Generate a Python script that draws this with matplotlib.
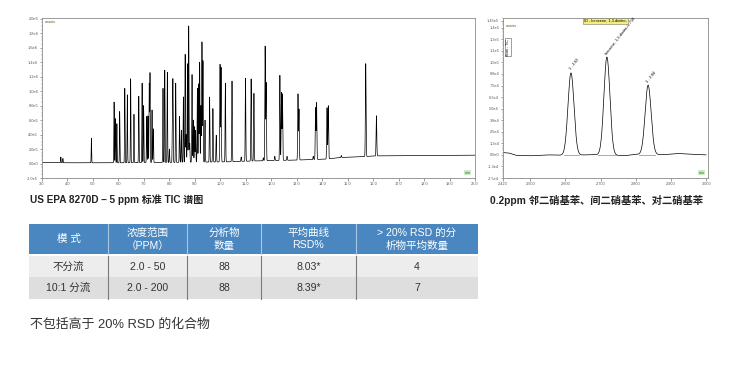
import numpy as np
import matplotlib
matplotlib.use('Agg')
import matplotlib.pyplot as plt
from matplotlib.patches import Rectangle
from matplotlib.ticker import MultipleLocator, FixedLocator

plt.rcParams['font.family'] = ['Liberation Sans', 'Noto Sans CJK SC', 'DejaVu Sans']

W, H = 729, 366

# --- left chromatogram (TIC), peak apex times (min) and apex heights (counts, 1e6)
tic_rt = [3.74, 3.82, 4.94, 5.83, 5.88, 5.94, 6.05, 6.25, 6.35, 6.48, 6.61, 6.80,
          6.93, 6.99, 7.11, 7.16, 7.21, 7.24, 7.32, 7.37, 7.75, 7.82, 7.92, 8.00,
          8.12, 8.14, 8.25, 8.40, 8.47, 8.55, 8.62, 8.66, 8.71, 8.76, 8.80, 8.89,
          8.94, 8.99, 9.03, 9.10, 9.15, 9.19, 9.24, 9.28, 9.32, 9.40, 9.58, 9.71,
          9.84, 9.99, 10.03, 10.20, 10.46, 10.82, 10.99, 11.21, 11.32, 11.69, 11.76,
          11.80, 12.14, 12.34, 12.40, 12.44, 12.62, 13.05, 13.09, 13.65, 13.74,
          13.78, 14.19, 14.24, 14.75, 15.71, 16.13]
tic_height = [0.09, 0.07, 0.35, 0.85, 0.62, 0.55, 0.72, 1.04, 0.95, 1.17, 0.68, 0.93,
              1.11, 0.80, 0.65, 0.66, 1.10, 1.25, 0.74, 0.48, 1.04, 1.29, 1.26, 0.20,
              0.59, 1.08, 1.11, 0.65, 0.46, 0.92, 1.51, 0.40, 1.38, 1.90, 0.28, 1.23,
              0.60, 0.51, 0.46, 1.04, 1.10, 1.40, 0.80, 1.68, 1.42, 0.60, 0.92, 0.76,
              0.39, 1.37, 1.33, 1.11, 1.14, 0.09, 1.18, 1.17, 0.97, 0.08, 1.62,
              1.12, 0.10, 1.22, 0.98, 0.96, 0.10, 0.96, 0.75, 0.10, 0.77,
              0.84, 0.77, 0.80, 0.11, 1.38, 0.66]
tic_base_t = [3.0, 4.2, 6.0, 8.0, 10.2, 11.5, 12.8, 14.1, 14.75, 15.4, 16.2, 20.0]
tic_base_y = [0.014, 0.010, 0.010, 0.015, 0.023, 0.037, 0.046, 0.060, 0.083, 0.092, 0.106, 0.115]
tic_yticks = [-0.2, 0.0, 0.2, 0.4, 0.6, 0.8, 1.0, 1.2, 1.4, 1.6, 1.8, 2.0]
tic_ylabels = ['-2.0e5', '0.0e0', '2.0e5', '4.0e5', '6.0e5', '8.0e5', '1.0e6',
               '1.2e6', '1.4e6', '1.6e6', '1.8e6', '2.0e6']

# --- right chromatogram (dinitrobenzenes)
dnb_rt = [2.616, 2.718, 2.835]
dnb_height = [8.9e4, 10.6e4, 7.5e4]
dnb_labels = ['1 - 2.62', 'benzene, 1,3-dinitro-/2.718', '3 - 2.84']
dnb_int = [(2.597, 2.638), (2.692, 2.744), (2.810, 2.855)]
dnb_base_t = [2.423, 2.44, 2.46, 2.50, 2.55, 2.60, 2.68, 2.77, 2.80, 2.88, 2.92, 2.95, 3.0]
dnb_base_y = [2500, 2000, -500, -1000, 0, -500, 200, -800, 500, 300, 1500, 800, 0]
dnb_yticks = [-2.5e4, -1.25e4, 0, 1.25e4, 2.5e4, 3.75e4, 5.0e4, 6.25e4, 7.5e4,
              8.75e4, 1.0e5, 1.125e5, 1.25e5, 1.375e5, 1.45e5]
dnb_ylabels = ['-2.5e4', '-1.3e4', '0.0e0', '1.3e4', '2.5e4', '3.8e4', '5.0e4', '6.3e4',
               '7.5e4', '8.8e4', '1.0e5', '1.1e5', '1.3e5', '1.4e5', '1.45e5']
dnb_xticks = [2.423, 2.5, 2.6, 2.7, 2.8, 2.9, 3.0]
dnb_xlabels = ['2.423', '2.500', '2.600', '2.700', '2.800', '2.900', '3.000']

# --- table
col_edges = [29, 108, 187, 261, 356, 478]
header = ['模 式', '浓度范围\n（PPM）', '分析物\n数量', '平均曲线\nRSD%', '> 20% RSD 的分\n析物平均数量']
rows = [['不分流', '2.0 - 50', '88', '8.03*', '4'],
        ['10:1 分流', '2.0 - 200', '88', '8.39*', '7']]


def px_axes(fig, x0, y0, x1, y1):
    return fig.add_axes([x0 / W, 1 - y1 / H, (x1 - x0) / W, (y1 - y0) / H])


def style_chrom(ax):
    for s in ax.spines.values():
        s.set_color('#8a8a8a')
        s.set_linewidth(0.6)
    ax.tick_params(which='major', length=1.8, width=0.4, labelsize=2.8,
                   colors='#555555', pad=1)
    ax.tick_params(which='minor', length=1.0, width=0.3, colors='#777777')


fig = plt.figure(figsize=(W / 100, H / 100), dpi=100)
ov = fig.add_axes([0, 0, 1, 1])
ov.set_xlim(0, W)
ov.set_ylim(H, 0)
ov.axis('off')

# left TIC
ax1 = px_axes(fig, 42, 18, 475, 178)
t = np.arange(3.0, 20.0, 0.0015)
y = np.interp(t, tic_base_t, tic_base_y)
for rt, h in zip(tic_rt, tic_height):
    amp = h - np.interp(rt, tic_base_t, tic_base_y)
    s = 0.008 + 0.0004 * (rt - 3)
    y += amp * np.exp(-0.5 * ((t - rt) / s) ** 2)
ax1.plot(t, y, color='black', lw=0.5)
ax1.set_xlim(3.0, 20.0)
ax1.set_ylim(-0.2, 2.01)
ax1.set_xticks(np.arange(3, 21, 1.0))
ax1.set_xticklabels(['%.1f' % v for v in np.arange(3, 21, 1.0)])
ax1.xaxis.set_minor_locator(MultipleLocator(0.2))
ax1.yaxis.set_major_locator(FixedLocator(tic_yticks))
ax1.set_yticklabels(tic_ylabels)
ax1.yaxis.set_minor_locator(MultipleLocator(0.05))
style_chrom(ax1)
ax1.text(0.006, 0.985, 'counts', transform=ax1.transAxes, fontsize=2.8,
         color='#4a6a2a', va='top', ha='left')
ax1.text(0.99, 0.02, 'min', transform=ax1.transAxes, fontsize=2.6, color='#2f5f2f',
         va='bottom', ha='right',
         bbox=dict(boxstyle='square,pad=0.15', fc='#cfe8c8', ec='none'))

# right chromatogram
ax2 = px_axes(fig, 503, 18, 708, 178)
t2 = np.arange(2.423, 3.0, 0.0005)
y2 = np.interp(t2, dnb_base_t, dnb_base_y)
for rt, h in zip(dnb_rt, dnb_height):
    y2 += h * np.exp(-0.5 * ((t2 - rt) / 0.0085) ** 2)
ax2.plot(t2, y2, color='black', lw=0.5)
for a, b in dnb_int:
    ax2.plot([a, b], [0, 0], color='#e06060', lw=0.5)
for rt, h, lab in zip(dnb_rt, dnb_height, dnb_labels):
    ax2.text(rt + 0.002, h + 2000, lab, rotation=52, fontsize=2.8, ha='left',
             va='bottom', rotation_mode='anchor')
ax2.set_xlim(2.423, 3.005)
ax2.set_ylim(-2.5e4, 1.48e5)
ax2.set_xticks(dnb_xticks)
ax2.set_xticklabels(dnb_xlabels)
ax2.xaxis.set_minor_locator(MultipleLocator(0.02))
ax2.set_yticks(dnb_yticks)
ax2.set_yticklabels(dnb_ylabels)
ax2.yaxis.set_minor_locator(MultipleLocator(2500))
style_chrom(ax2)
ax2.text(0.012, 0.965, 'counts', transform=ax2.transAxes, fontsize=2.8,
         color='#4a6a2a', va='top', ha='left')
ax2.text(0.025, 0.87, 'Scan - TIC', transform=ax2.transAxes, fontsize=2.6,
         rotation=90, va='top', ha='center',
         bbox=dict(boxstyle='square,pad=0.2', fc='white', ec='#555555', lw=0.4))
ax2.text(0.5, 0.995, 'ID - benzene, 1,3-dinitro-', transform=ax2.transAxes,
         fontsize=2.8, va='top', ha='center',
         bbox=dict(boxstyle='square,pad=0.2', fc='#f3ef7a', ec='#777777', lw=0.4))
ax2.text(0.985, 0.02, 'min', transform=ax2.transAxes, fontsize=2.6, color='#2f5f2f',
         va='bottom', ha='right',
         bbox=dict(boxstyle='square,pad=0.15', fc='#cfe8c8', ec='none'))

# captions
ov.text(30, 200, 'US EPA 8270D – 5 ppm 标准 TIC 谱图', fontsize=7.2, weight='bold',
        color='#222222', va='center', ha='left')
ov.text(490, 200, '0.2ppm 邻二硝基苯、间二硝基苯、对二硝基苯', fontsize=7.4, weight='bold',
        color='#222222', va='center', ha='left')

# table
hdr_top, hdr_bot = 224, 254
row_y = [(256, 277), (277, 299)]
row_fc = ['#ededed', '#dedede']
ov.add_patch(Rectangle((col_edges[0], hdr_top), col_edges[-1] - col_edges[0],
                       hdr_bot - hdr_top, fc='#4a86bf', ec='none'))
for i, (y0, y1) in enumerate(row_y):
    ov.add_patch(Rectangle((col_edges[0], y0), col_edges[-1] - col_edges[0], y1 - y0,
                           fc=row_fc[i], ec='none'))
for x in col_edges[1:-1]:
    ov.plot([x, x], [hdr_top, hdr_bot], color='#a9c6e3', lw=0.8)
    ov.plot([x, x], [row_y[0][0], row_y[1][1]], color='#7a7a7a', lw=0.8)
for j, txt in enumerate(header):
    cx = (col_edges[j] + col_edges[j + 1]) / 2
    lines = txt.split('\n')
    if len(lines) == 1:
        ys = [(hdr_top + hdr_bot) / 2]
    else:
        ys = [232.5, 245.5]
    for ln, ly in zip(lines, ys):
        ov.text(cx, ly, ln, color='white', fontsize=7.6, ha='center', va='center')
for i, r in enumerate(rows):
    cy = sum(row_y[i]) / 2
    for j, txt in enumerate(r):
        cx = (col_edges[j] + col_edges[j + 1]) / 2
        ov.text(cx, cy, txt, color='#333333', fontsize=7.6, ha='center', va='center')

# footnote
ov.text(30, 325, '不包括高于 20% RSD 的化合物', fontsize=9.3, color='#333333',
        va='center', ha='left')

fig.savefig('out.png', dpi=100)
